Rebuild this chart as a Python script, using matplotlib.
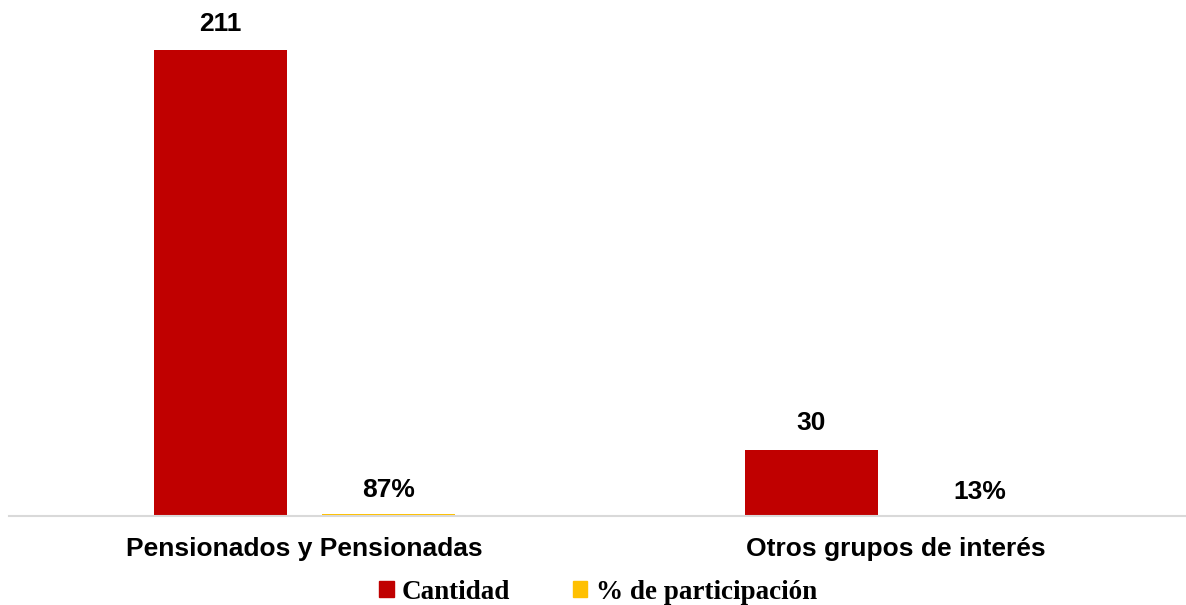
import numpy as np
import matplotlib.pyplot as plt
from matplotlib.patches import Patch

categorias = ["Pensionados y Pensionadas", "Otros grupos de interés"]
cantidad = [211, 30]
participacion = [0.87, 0.13]
etiquetas_pct = ["87%", "13%"]

rojo = "#C00000"
amarillo = "#FFC000"

fig = plt.figure(figsize=(11.86, 6.05), dpi=100)
ax = fig.add_axes([9 / 1186, 89 / 605, 1 - 9 / 1186, (516 - 10) / 605])

x = np.arange(len(categorias))
ancho = 0.225
desp = 0.1425

b1 = ax.bar(x - desp, cantidad, ancho, color=rojo, label="Cantidad")
b2 = ax.bar(x + desp, participacion, ancho, color=amarillo, label="% de participación")

etiq = dict(textcoords="offset points", ha="center", va="center",
            fontsize=19, fontweight="bold", family="Liberation Sans")
for rect, v in zip(b1, cantidad):
    ax.annotate(str(v), (rect.get_x() + rect.get_width() / 2, rect.get_height()),
                xytext=(0, 19), **etiq)
for rect, t in zip(b2, etiquetas_pct):
    ax.annotate(t, (rect.get_x() + rect.get_width() / 2, rect.get_height()),
                xytext=(0, 17), **etiq)

ax.set_xlim(-0.5, -0.5 + 1177 / 591)
ax.set_ylim(0, 506 / 2.2085)
ax.set_xticks(x)
ax.set_xticklabels(categorias, fontsize=19, fontweight="bold", family="Liberation Sans")
ax.tick_params(axis="x", length=0, pad=15)
ax.set_yticks([])
for s in ["top", "right", "left"]:
    ax.spines[s].set_visible(False)
ax.spines["bottom"].set_color("#D9D9D9")
ax.spines["bottom"].set_linewidth(1.5)

handles = [Patch(color=rojo), Patch(color=amarillo)]
fig.legend(handles, ["Cantidad", "% de participación"], loc="center",
           bbox_to_anchor=(0.504, 0.021), ncol=2, frameon=False,
           prop={"family": "Liberation Serif", "weight": "bold", "size": 19.5},
           handlelength=0.55, handleheight=0.55, handletextpad=0.3, columnspacing=2.3,
           borderpad=0)

fig.savefig("out.png", dpi=100)
